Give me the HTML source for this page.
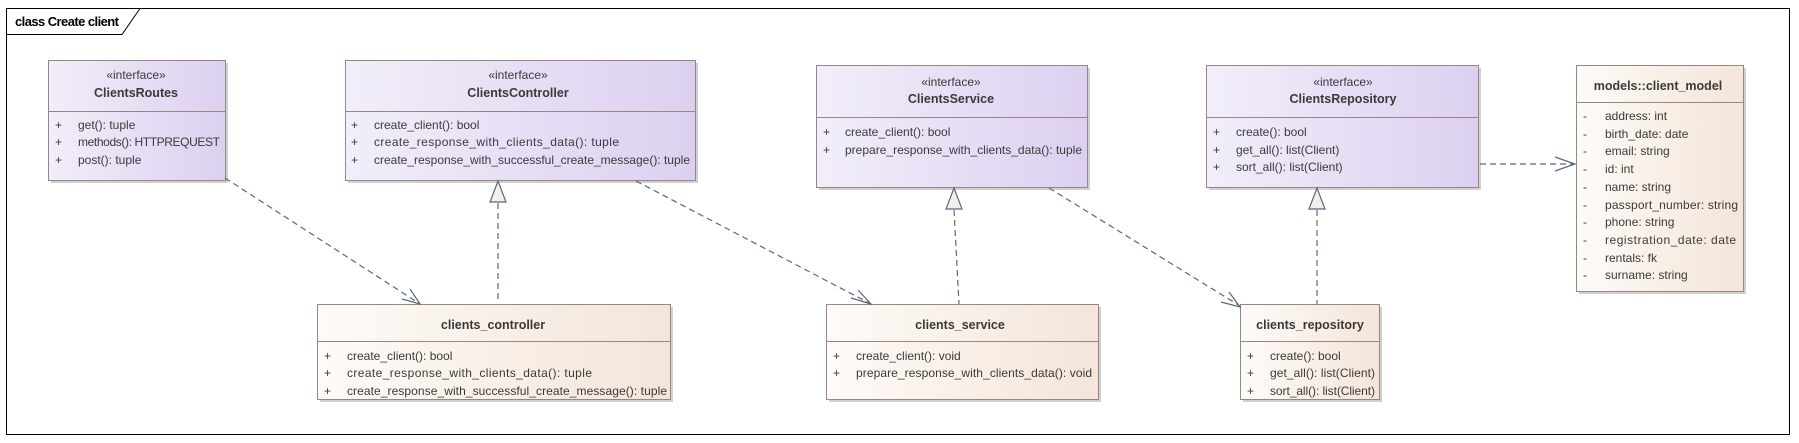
<!DOCTYPE html>
<html><head><meta charset="utf-8"><style>
html,body{margin:0;padding:0;background:#fff;}
svg{display:block;font-family:"Liberation Sans",sans-serif;}
.t{font-size:12px;fill:#3a3a3a;}
.b{font-size:12.5px;fill:#3a3a3a;font-weight:bold;}
</style></head><body>
<svg width="1799" height="443" viewBox="0 0 1799 443" xmlns="http://www.w3.org/2000/svg">
<defs>
<linearGradient id="gi" x1="0" x2="1" y1="0" y2="0"><stop offset="0" stop-color="#f2eefa"/><stop offset="1" stop-color="#dcd0f0"/></linearGradient>
<linearGradient id="gc" x1="0" x2="1" y1="0" y2="0"><stop offset="0" stop-color="#fdfbf8"/><stop offset="1" stop-color="#f4e5d9"/></linearGradient>
</defs>
<rect x="6.5" y="8.5" width="1783" height="426" fill="#fff" stroke="#000" stroke-width="1"/>
<path d="M6.5 34.5 H122 L140 8.5" fill="none" stroke="#000"/>
<text x="15" y="26" style="font-size:13px;fill:#000;font-weight:bold" textLength="104">class Create client</text>

<g stroke="#9a8484" stroke-width="1">
<g fill="#d0d0d0" stroke="none">
<rect x="51" y="63" width="177" height="120"/><rect x="348" y="63" width="350" height="120"/>
<rect x="819" y="68" width="271" height="122"/><rect x="1209" y="68" width="272" height="122"/>
<rect x="1579" y="68" width="167" height="226"/>
<rect x="320" y="307" width="353" height="95"/><rect x="829" y="307" width="272" height="95"/><rect x="1243" y="307" width="139" height="95"/>
</g>
<rect x="48.5" y="60.5" width="177" height="120" fill="url(#gi)"/><line x1="48.5" y1="111.5" x2="225.5" y2="111.5"/>
<rect x="345.5" y="60.5" width="350" height="120" fill="url(#gi)"/><line x1="345.5" y1="111.5" x2="695.5" y2="111.5"/>
<rect x="816.5" y="65.5" width="271" height="122" fill="url(#gi)"/><line x1="816.5" y1="117.5" x2="1087.5" y2="117.5"/>
<rect x="1206.5" y="65.5" width="272" height="122" fill="url(#gi)"/><line x1="1206.5" y1="117.5" x2="1478.5" y2="117.5"/>
<rect x="1576.5" y="65.5" width="167" height="226" fill="url(#gc)"/><line x1="1576.5" y1="102.5" x2="1743.5" y2="102.5"/>
<rect x="317.5" y="304.5" width="353" height="95" fill="url(#gc)"/><line x1="317.5" y1="341.5" x2="670.5" y2="341.5"/>
<rect x="826.5" y="304.5" width="272" height="95" fill="url(#gc)"/><line x1="826.5" y1="341.5" x2="1098.5" y2="341.5"/>
<rect x="1240.5" y="304.5" width="139" height="95" fill="url(#gc)"/><line x1="1240.5" y1="341.5" x2="1379.5" y2="341.5"/>
</g>

<g stroke="#5c6680" stroke-width="1.2" fill="none" stroke-dasharray="6,4">
<line x1="225" y1="178" x2="420" y2="304"/>
<line x1="636" y1="181" x2="871" y2="304"/>
<line x1="1049" y1="188" x2="1240" y2="306"/>
<line x1="1480" y1="164" x2="1574" y2="164"/>
<line x1="498" y1="203" x2="498" y2="302"/>
<line x1="954" y1="210" x2="959" y2="304"/>
<line x1="1317" y1="210" x2="1317" y2="304"/>
</g>
<g stroke="#5c6680" stroke-width="1.2" fill="none">
<path d="M402 299 L420 304 L410 289"/>
<path d="M851 298 L871 304 L858 290"/>
<path d="M1221 302 L1240 307 L1229 292"/>
<path d="M1555 157 L1575 164 L1555 171"/>
</g>
<g stroke="#5c6680" stroke-width="1.2" fill="#f4eeec">
<path d="M498 181 L490 202 L506 202 Z"/>
<path d="M954 188 L946 209 L962 209 Z"/>
<path d="M1317 188 L1309 209 L1325 209 Z"/>
</g>

<g class="t">
<text x="136" y="79" text-anchor="middle">«interface»</text>
<text x="518" y="79" text-anchor="middle">«interface»</text>
<text x="951" y="86" text-anchor="middle">«interface»</text>
<text x="1343" y="86" text-anchor="middle">«interface»</text>
</g>
<g class="b">
<text x="136" y="97" text-anchor="middle">ClientsRoutes</text>
<text x="518" y="97" text-anchor="middle">ClientsController</text>
<text x="951" y="103" text-anchor="middle">ClientsService</text>
<text x="1343" y="103" text-anchor="middle">ClientsRepository</text>
<text x="1658" y="90" text-anchor="middle">models::client_model</text>
<text x="493" y="329" text-anchor="middle">clients_controller</text>
<text x="960" y="329" text-anchor="middle">clients_service</text>
<text x="1310" y="329" text-anchor="middle">clients_repository</text>
</g>
<g class="t">
<text x="55" y="129">+</text><text x="78" y="129">get(): tuple</text>
<text x="55" y="146">+</text><text x="78" y="146" textLength="142">methods(): HTTPREQUEST</text>
<text x="55" y="164">+</text><text x="78" y="164">post(): tuple</text>

<text x="351" y="129">+</text><text x="374" y="129">create_client(): bool</text>
<text x="351" y="146">+</text><text x="374" y="146" textLength="245">create_response_with_clients_data(): tuple</text>
<text x="351" y="164">+</text><text x="374" y="164" textLength="316">create_response_with_successful_create_message(): tuple</text>

<text x="823" y="136">+</text><text x="845" y="136">create_client(): bool</text>
<text x="823" y="154">+</text><text x="845" y="154" textLength="237">prepare_response_with_clients_data(): tuple</text>

<text x="1213" y="136">+</text><text x="1236" y="136">create(): bool</text>
<text x="1213" y="154">+</text><text x="1236" y="154">get_all(): list(Client)</text>
<text x="1213" y="171">+</text><text x="1236" y="171">sort_all(): list(Client)</text>

<text x="324" y="360">+</text><text x="347" y="360">create_client(): bool</text>
<text x="324" y="377">+</text><text x="347" y="377" textLength="245">create_response_with_clients_data(): tuple</text>
<text x="324" y="395">+</text><text x="347" y="395" textLength="320">create_response_with_successful_create_message(): tuple</text>

<text x="833" y="360">+</text><text x="856" y="360">create_client(): void</text>
<text x="833" y="377">+</text><text x="856" y="377" textLength="236">prepare_response_with_clients_data(): void</text>

<text x="1247" y="360">+</text><text x="1270" y="360">create(): bool</text>
<text x="1247" y="377">+</text><text x="1270" y="377" textLength="105">get_all(): list(Client)</text>
<text x="1247" y="395">+</text><text x="1270" y="395" textLength="105">sort_all(): list(Client)</text>

<text x="1583" y="120">-</text><text x="1605" y="120">address: int</text>
<text x="1583" y="138">-</text><text x="1605" y="138">birth_date: date</text>
<text x="1583" y="155">-</text><text x="1605" y="155">email: string</text>
<text x="1583" y="173">-</text><text x="1605" y="173">id: int</text>
<text x="1583" y="191">-</text><text x="1605" y="191">name: string</text>
<text x="1583" y="209">-</text><text x="1605" y="209" textLength="133">passport_number: string</text>
<text x="1583" y="226">-</text><text x="1605" y="226">phone: string</text>
<text x="1583" y="244">-</text><text x="1605" y="244" textLength="131">registration_date: date</text>
<text x="1583" y="262">-</text><text x="1605" y="262">rentals: fk</text>
<text x="1583" y="279">-</text><text x="1605" y="279">surname: string</text>
</g>
</svg>
</body></html>
